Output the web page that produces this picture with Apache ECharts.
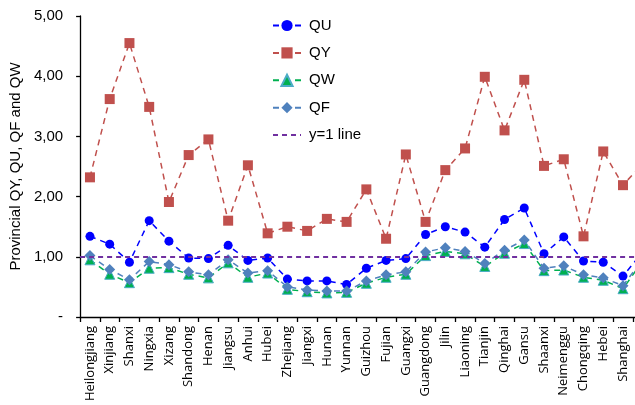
<!DOCTYPE html>
<html>
<head>
<meta charset="utf-8">
<script src="https://cdn.jsdelivr.net/npm/echarts@6/dist/echarts.min.js"></script>
<style>
html,body{margin:0;padding:0;overflow:hidden;background:#fff;width:635px;height:405px;}
#c{width:660px;height:405px;}
</style>
</head>
<body>
<div id="c"></div>
<script>
var categories = ["Heilongjiang","Xinjiang","Shanxi","Ningxia","Xizang","Shandong","Henan","Jiangsu","Anhui","Hubei","Zhejiang","Jiangxi","Hunan","Yunnan","Guizhou","Fujian","Guangxi","Guangdong","Jilin","Liaoning","Tianjin","Qinghai","Gansu","Shaanxi","Neimenggu","Chongqing","Hebei","Shanghai","Beijing"];
var QU = [1.34,1.21,0.91,1.60,1.26,0.98,0.97,1.19,0.94,0.98,0.63,0.60,0.60,0.54,0.81,0.94,0.97,1.37,1.50,1.41,1.16,1.62,1.81,1.05,1.33,0.93,0.91,0.68,1.08];
var QY = [2.32,3.62,4.55,3.49,1.91,2.69,2.95,1.60,2.52,1.39,1.50,1.43,1.63,1.58,2.12,1.30,2.70,1.58,2.44,2.80,3.99,3.10,3.94,2.51,2.62,1.34,2.75,2.19,2.55];
var QW = [0.95,0.71,0.57,0.81,0.82,0.71,0.65,0.90,0.66,0.73,0.46,0.42,0.40,0.41,0.56,0.66,0.71,1.02,1.09,1.05,0.84,1.06,1.22,0.77,0.78,0.66,0.61,0.47,0.93];
var QF = [1.02,0.79,0.62,0.92,0.87,0.75,0.70,0.95,0.73,0.77,0.50,0.45,0.43,0.43,0.60,0.70,0.75,1.08,1.15,1.09,0.89,1.11,1.28,0.81,0.85,0.70,0.65,0.52,0.96];
var refValue = 1;
var yTicks = ["-","1,00","2,00","3,00","4,00","5,00"];

var chart = echarts.init(document.getElementById('c'), null, {renderer:'canvas'});
var font = 'Liberation Sans';
chart.setOption({
  animation:false,
  backgroundColor:'#fff',
  grid:{left:79, top:16, width:573.6, height:301, containLabel:false},
  legend:{
    orient:'vertical', left:267, top:13,
    itemWidth:28, itemHeight:14, itemGap:12.4,
    textStyle:{fontFamily:font, fontSize:15, color:'#000', padding:[0,0,0,3]},
    data:['QU','QY','QW','QF',{name:'y=1 line', itemStyle:{opacity:0}}]
  },
  xAxis:{
    type:'category', data:categories, boundaryGap:true,
    axisLine:{lineStyle:{color:'#000', width:1.3}},
    axisTick:{show:true, length:5, lineStyle:{color:'#000', width:1.3}, interval:0},
    axisLabel:{rotate:90, interval:0, fontFamily:'Open Sans', fontSize:13, color:'#000', margin:9},
    splitLine:{show:false}
  },
  yAxis:{
    type:'value', min:0, max:5, interval:1,
    name:'Provincial QY, QU, QF and QW', nameLocation:'middle', nameGap:56, nameRotate:90,
    nameTextStyle:{fontFamily:font, fontSize:15, color:'#000'},
    axisLine:{show:true, lineStyle:{color:'#000', width:1.3}},
    axisTick:{show:true, length:4, lineStyle:{color:'#000', width:1.3}},
    axisLabel:{fontFamily:font, fontSize:15, color:'#000', margin:17,
      formatter:function(v){ return yTicks[Math.round(v)]; }},
    splitLine:{show:false}
  },
  series:[
    {name:'QU', type:'line', data:QU, symbol:'circle', symbolSize:9,
      lineStyle:{color:'#0000FF', width:1.5, type:[6,5]},
      itemStyle:{color:'#0000FF'}},
    {name:'QY', type:'line', data:QY, symbol:'rect', symbolSize:10,
      lineStyle:{color:'#C0504D', width:1.5, type:[6,5]},
      itemStyle:{color:'#C0504D'}},
    {name:'QW', type:'line', data:QW, symbol:'triangle', symbolSize:10,
      lineStyle:{color:'#00B050', width:1.5, type:[6,5]},
      itemStyle:{color:'#00B050', borderColor:'#4BACC6', borderWidth:1}},
    {name:'QF', type:'line', data:QF, symbol:'diamond', symbolSize:11,
      lineStyle:{color:'#4F81BD', width:1.5, type:[6,5]},
      itemStyle:{color:'#4F81BD'}},
    {name:'y=1 line', type:'line', data:categories.map(function(){return null;}), symbol:'none',
      lineStyle:{color:'#7030A0', width:1.8, type:[5,4]},
      itemStyle:{color:'#7030A0'},
      markLine:{silent:true, symbol:'none', label:{show:false},
        lineStyle:{color:'#7030A0', width:1.8, type:[5,4]},
        data:[{yAxis:refValue}]}}
  ]
});
</script>
</body>
</html>
